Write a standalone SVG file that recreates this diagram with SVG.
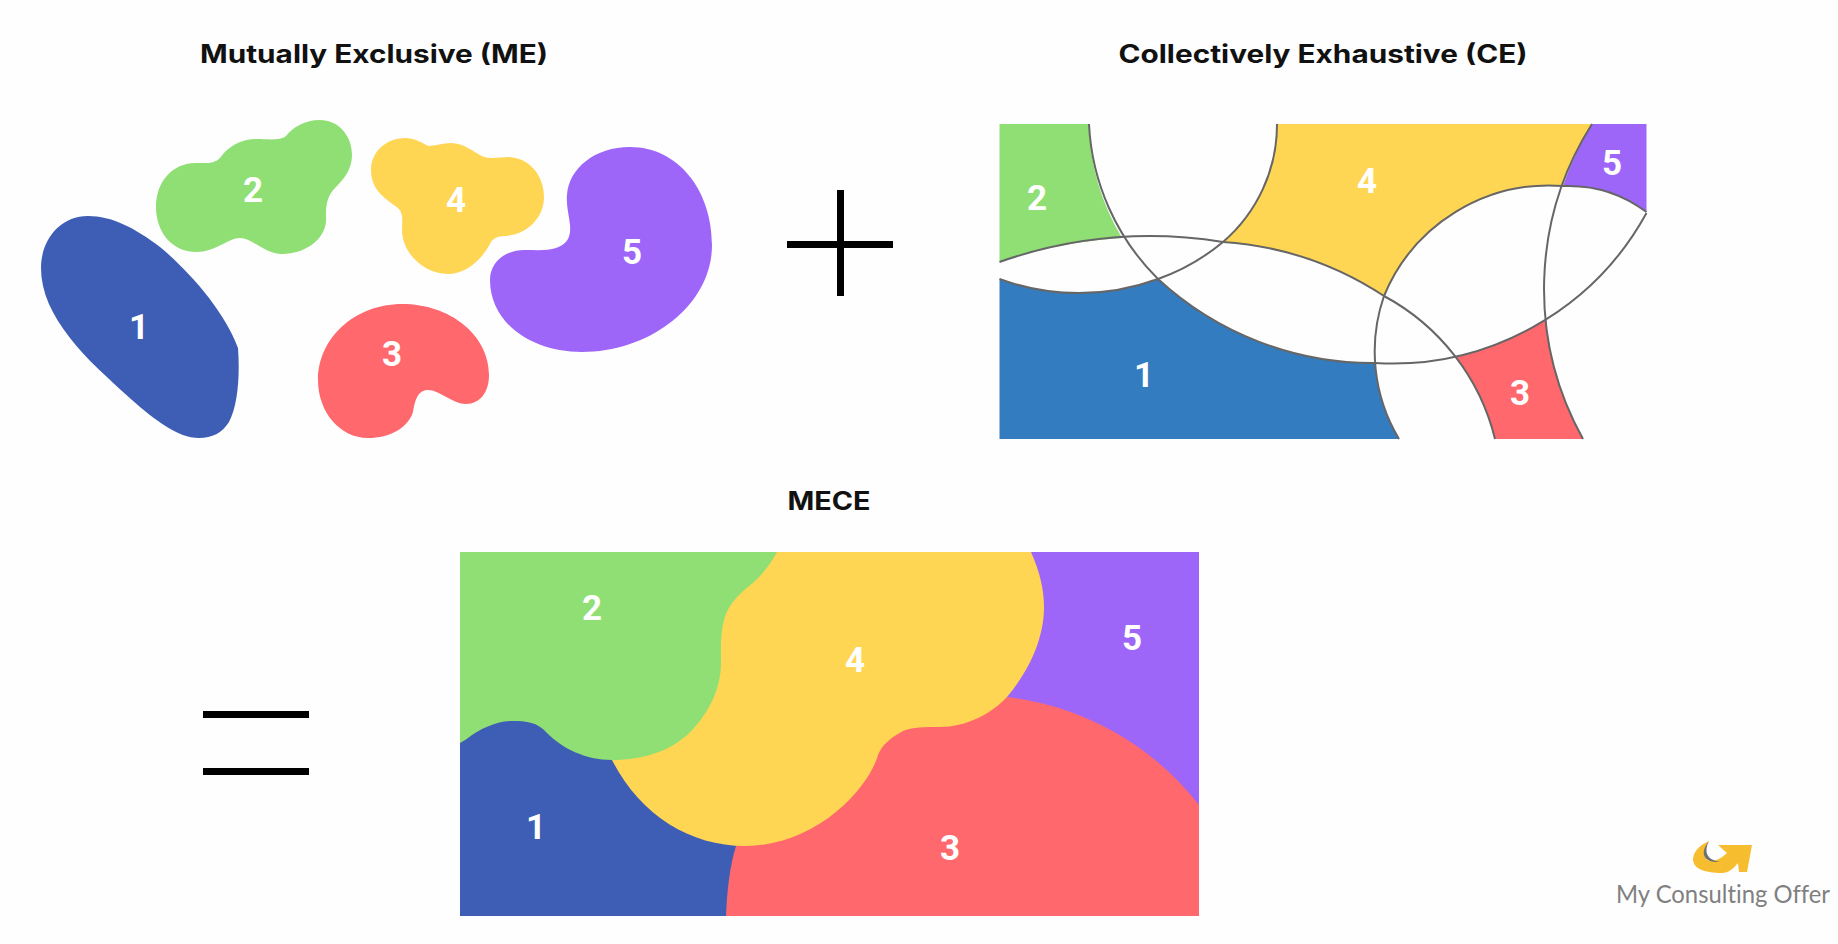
<svg xmlns="http://www.w3.org/2000/svg" width="1838" height="944" viewBox="0 0 1838 944">
<style>
.bg{fill:#fefefe}
.blue{fill:#3e5db5}.blue2{fill:#337cbf}.green{fill:#90df75}.red{fill:#ff686d}.yellow{fill:#ffd653}.purple{fill:#9e66f8}
.title{font-family:"Inter","Liberation Sans",sans-serif;font-weight:700;font-size:25px;fill:#111;text-anchor:middle}
.num{font-family:"Roboto","Liberation Sans",sans-serif;font-weight:700;font-size:35px;fill:#fff;text-anchor:middle;dominant-baseline:central}
.edge{fill:none;stroke:#666;stroke-width:2}
.sym{fill:#000}
.brand{font-family:"Lato","Noto Sans",sans-serif;font-size:25px;fill:#808080;font-variant-ligatures:none}
</style>
<rect class="bg" width="1838" height="944"/>
<text class="title" x="374" y="63" textLength="348" lengthAdjust="spacingAndGlyphs">Mutually Exclusive (ME)</text>
<text class="title" x="1323" y="63" textLength="409" lengthAdjust="spacingAndGlyphs">Collectively Exhaustive (CE)</text>
<text class="title" x="829" y="510" textLength="83" lengthAdjust="spacingAndGlyphs">MECE</text>
<g id="me">
<g id="me-1"><path class="blue" d="M88 216C112 216 135 228 160 247C190 272 225 312 238 348C240 375 238 405 229 422C222 433 212 438 199 438C178 438 155 420 132 400C110 380 85 358 70 338C52 315 41 292 41 268C41 240 60 216 88 216Z"/><text class="num" x="139" y="327">1</text></g>
<g id="me-2"><path class="green" d="M320 120C338 120 352 135 352 155C352 170 343 180 335 188C325 198 326 210 326 222C324 240 305 254 282 254C265 254 252 238 240 238C228 238 216 252 196 252C172 252 156 232 156 207C156 182 172 163 196 163C207 163 214 164 220 158C228 146 242 139 256 139C268 139 280 141 286 136C293 127 305 120 320 120Z"/><text class="num" x="253" y="190">2</text></g>
<g id="me-3"><path class="red" d="M402 304C450 304 489 335 489 375C489 392 480 404 466 404C452 404 440 390 428 390C418 390 415 400 413 412C408 428 390 438 368 438C340 438 318 412 318 380C318 338 355 304 402 304Z"/><text class="num" x="392" y="354">3</text></g>
<g id="me-4"><path class="yellow" d="M405 138C414 138 421 142 428 146C436 146 442 143 451 143C464 143 473 152 484 157C492 159 500 157 509 157C530 158 544 176 544 197C544 218 527 234 506 236C498 236 494 238 491 242C482 260 466 274 448 274C424 274 402 253 402 230C402 222 404 214 398 208C388 200 371 192 371 170C371 152 386 138 405 138Z"/><text class="num" x="456" y="200">4</text></g>
<g id="me-5"><path class="purple" d="M630 147C678 147 712 190 712 245C712 305 650 352 582 352C530 352 490 322 490 280C490 262 505 250 525 250C535 250 548 251 556 248C568 244 571 236 570 225C569 215 566 205 567 195C569 168 595 147 630 147Z"/><text class="num" x="632" y="252">5</text></g>
</g>
<g id="plus"><rect class="sym" x="787" y="241" width="106" height="7"/><rect class="sym" x="837" y="190" width="7" height="106"/></g>
<g id="ce">
<g id="ce-2"><path class="green" d="M999.500 124H1089A234 234 0 0 0 1122 238A455 455 0 0 0 999.500 262Z"/><text class="num" x="1037" y="198">2</text></g>
<g id="ce-1"><path class="blue2" d="M999.500 279A230 230 0 0 0 1158 279A317 317 0 0 0 1375 363A170 170 0 0 0 1399 439H999.500Z"/><text class="num" x="1144" y="375">1</text></g>
<g id="ce-4"><path class="yellow" d="M1277 124H1592A308 308 0 0 0 1563 186A179 179 0 0 0 1384 296A334 334 0 0 0 1223 242A155 155 0 0 0 1277 124Z"/><text class="num" x="1367" y="181">4</text></g>
<g id="ce-5"><path class="purple" d="M1592 124H1646.500V212A130 130 0 0 0 1563 186A308 308 0 0 1 1592 124Z"/><text class="num" x="1612" y="163">5</text></g>
<g id="ce-3"><path class="red" d="M1455 356.600A290 290 0 0 0 1546 319.500A308 308 0 0 0 1583 439H1495A223 223 0 0 0 1455 356.600Z"/><text class="num" x="1520" y="393">3</text></g>
<g id="ce-lines">
<path class="edge" d="M1089 124A234 234 0 0 0 1158 279A317 317 0 0 0 1375 363A290 290 0 0 0 1646.500 213"/>
<path class="edge" d="M999.500 262A455 455 0 0 1 1223 242A334 334 0 0 1 1384 296A223 223 0 0 1 1495 439"/>
<path class="edge" d="M999.500 279A230 230 0 0 0 1158 279A213 213 0 0 0 1223 242A155 155 0 0 0 1277 124"/>
<path class="edge" d="M1592 124A308 308 0 0 0 1583 439"/>
<path class="edge" d="M1399 439A170 170 0 0 1 1384 296A179 179 0 0 1 1563 186A130 130 0 0 1 1646.500 212"/>
</g>
</g>
<g id="equals"><rect class="sym" x="203" y="711" width="106" height="7"/><rect class="sym" x="203" y="768" width="106" height="7"/></g>
<g id="mece">
<rect class="purple" x="460" y="552" width="739" height="364"/>
<path class="blue" d="M460 700H620L745 840V916H460Z"/>
<path class="red" d="M726 916C727 890 730 865 736 846L900 700L1007 697A286 286 0 0 1 1199 805V916Z"/>
<path class="green" d="M460 552H790L740 760H612C585 760 562 748 547 733C537 722 527 721 512 721C495 721 480 730 472 735C468 738 464 741 460 743Z"/>
<path class="yellow" d="M777 552H1031C1040 572 1044 590 1044 607C1044 640 1028 672 1007 697C990 715 965 727 940 727C925 727 912 727 903 731C890 738 882 745 878 755C868 790 815 846 745 846C690 846 640 815 612 760C645 760 675 750 694 728C712 708 721 685 721 663C721 650 720 635 724 620C728 605 738 595 748 587C760 578 770 565 777 552Z"/>
<text class="num" x="592" y="608">2</text>
<text class="num" x="855" y="660">4</text>
<text class="num" x="1132" y="638">5</text>
<text class="num" x="536" y="827">1</text>
<text class="num" x="950" y="848">3</text>
</g>
<g id="logo">
<path fill="#f6bd2e" d="M1709 841C1698 846 1693 853 1693 860C1694 868 1702 873 1723 873C1730 872 1734 868 1738 863L1739 872H1747L1752 845H1718L1727 853C1722 858 1716 861 1710 861C1703 860 1702 850 1709 841Z"/>
<path fill="#6f6f70" d="M1709 841C1700 852 1702 863 1720 862C1708 860 1703 853 1709 841Z"/>
<text class="brand" x="1616" y="903" textLength="214" lengthAdjust="spacingAndGlyphs">My Consulting Offer</text>
</g>
</svg>
